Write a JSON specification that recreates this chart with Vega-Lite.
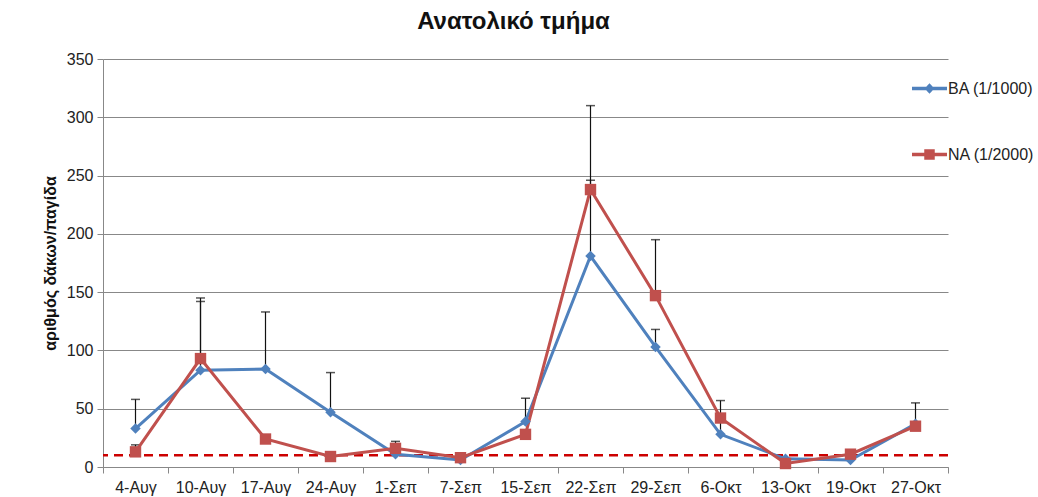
{
  "$schema": "https://vega.github.io/schema/vega-lite/v6.json",
  "width": 845,
  "height": 408,
  "autosize": {"type": "none"},
  "padding": {"left": 103, "top": 59, "right": 90, "bottom": 30},
  "background": "white",
  "title": {"text": "Ανατολικό τμήμα", "font": "Liberation Sans", "fontSize": 24, "fontWeight": "bold", "color": "#111", "anchor": "middle", "dx": -12, "offset": 17},
  "config": {
    "view": {"stroke": null},
    "axis": {"labelFont": "Liberation Sans", "labelFontSize": 16, "labelColor": "#222", "titleFont": "Liberation Sans", "domainColor": "#888", "tickColor": "#888", "gridColor": "#888", "gridWidth": 1}
  },
  "datasets": {
    "series": [
      {"date": "4-Αυγ", "series": "BA (1/1000)", "value": 33},
      {"date": "10-Αυγ", "series": "BA (1/1000)", "value": 83},
      {"date": "17-Αυγ", "series": "BA (1/1000)", "value": 84},
      {"date": "24-Αυγ", "series": "BA (1/1000)", "value": 47},
      {"date": "1-Σεπ", "series": "BA (1/1000)", "value": 11},
      {"date": "7-Σεπ", "series": "BA (1/1000)", "value": 6},
      {"date": "15-Σεπ", "series": "BA (1/1000)", "value": 39},
      {"date": "22-Σεπ", "series": "BA (1/1000)", "value": 181},
      {"date": "29-Σεπ", "series": "BA (1/1000)", "value": 103},
      {"date": "6-Οκτ", "series": "BA (1/1000)", "value": 28},
      {"date": "13-Οκτ", "series": "BA (1/1000)", "value": 7},
      {"date": "19-Οκτ", "series": "BA (1/1000)", "value": 6},
      {"date": "27-Οκτ", "series": "BA (1/1000)", "value": 37},
      {"date": "4-Αυγ", "series": "NA (1/2000)", "value": 13},
      {"date": "10-Αυγ", "series": "NA (1/2000)", "value": 93},
      {"date": "17-Αυγ", "series": "NA (1/2000)", "value": 24},
      {"date": "24-Αυγ", "series": "NA (1/2000)", "value": 9},
      {"date": "1-Σεπ", "series": "NA (1/2000)", "value": 16},
      {"date": "7-Σεπ", "series": "NA (1/2000)", "value": 8},
      {"date": "15-Σεπ", "series": "NA (1/2000)", "value": 28},
      {"date": "22-Σεπ", "series": "NA (1/2000)", "value": 238},
      {"date": "29-Σεπ", "series": "NA (1/2000)", "value": 147},
      {"date": "6-Οκτ", "series": "NA (1/2000)", "value": 42},
      {"date": "13-Οκτ", "series": "NA (1/2000)", "value": 3},
      {"date": "19-Οκτ", "series": "NA (1/2000)", "value": 11},
      {"date": "27-Οκτ", "series": "NA (1/2000)", "value": 35}
    ],
    "errors": [
      {"date": "4-Αυγ", "series": "BA (1/1000)", "value": 33, "upper": 58},
      {"date": "4-Αυγ", "series": "NA (1/2000)", "value": 13, "upper": 19},
      {"date": "10-Αυγ", "series": "BA (1/1000)", "value": 83, "upper": 142},
      {"date": "10-Αυγ", "series": "NA (1/2000)", "value": 93, "upper": 145},
      {"date": "17-Αυγ", "series": "BA (1/1000)", "value": 84, "upper": 133},
      {"date": "24-Αυγ", "series": "BA (1/1000)", "value": 47, "upper": 81},
      {"date": "1-Σεπ", "series": "NA (1/2000)", "value": 16, "upper": 22},
      {"date": "15-Σεπ", "series": "BA (1/1000)", "value": 39, "upper": 59},
      {"date": "22-Σεπ", "series": "BA (1/1000)", "value": 181, "upper": 246},
      {"date": "22-Σεπ", "series": "NA (1/2000)", "value": 238, "upper": 310},
      {"date": "29-Σεπ", "series": "BA (1/1000)", "value": 103, "upper": 118},
      {"date": "29-Σεπ", "series": "NA (1/2000)", "value": 147, "upper": 195},
      {"date": "6-Οκτ", "series": "BA (1/1000)", "value": 28, "upper": 57},
      {"date": "27-Οκτ", "series": "BA (1/1000)", "value": 37, "upper": 55}
    ],
    "threshold": [{"level": 10}]
  },
  "encoding": {
    "x": {
      "field": "date", "type": "nominal", "bandPosition": 0.5,
      "sort": ["4-Αυγ","10-Αυγ","17-Αυγ","24-Αυγ","1-Σεπ","7-Σεπ","15-Σεπ","22-Σεπ","29-Σεπ","6-Οκτ","13-Οκτ","19-Οκτ","27-Οκτ"],
      "scale": {"type": "band", "paddingInner": 0, "paddingOuter": 0},
      "axis": {"title": null, "labelAngle": 0, "tickBand": "extent", "tickSize": 6, "labelPadding": 6, "grid": false}
    }
  },
  "layer": [
    {
      "data": {"name": "series"},
      "mark": {"type": "rule", "opacity": 0},
      "encoding": {
        "y": {"field": "value", "type": "quantitative", "scale": {"domain": [0, 350]},
          "axis": {"values": [0,50,100,150,200,250,300,350], "title": "αριθμός δάκων/παγίδα", "titleFontSize": 16, "titleFontWeight": "bold", "titleColor": "#111", "titlePadding": 8, "tickSize": 6, "labelPadding": 4, "grid": true}}
      }
    },
    {
      "data": {"name": "errors"},
      "mark": {"type": "rule", "color": "#111", "strokeWidth": 1.2},
      "encoding": {
        "y": {"field": "value", "type": "quantitative"},
        "y2": {"field": "upper"}
      }
    },
    {
      "data": {"name": "errors"},
      "mark": {"type": "tick", "color": "#111", "thickness": 1.5, "size": 9, "orient": "horizontal"},
      "encoding": {
        "y": {"field": "upper", "type": "quantitative"}
      }
    },
    {
      "data": {"name": "threshold"},
      "mark": {"type": "rule", "color": "#CC0000", "strokeWidth": 2.5, "strokeDash": [9, 6]},
      "encoding": {
        "x": null,
        "y": {"field": "level", "type": "quantitative"}
      }
    },
    {
      "data": {"name": "series"},
      "mark": {"type": "line", "strokeWidth": 3},
      "encoding": {
        "y": {"field": "value", "type": "quantitative"},
        "color": {"field": "series", "type": "nominal", "scale": {"domain": ["BA (1/1000)", "NA (1/2000)"], "range": ["#4F81BD", "#C0504D"]},
          "legend": {
            "title": null, "orient": "none", "legendX": 809, "legendY": 12,
            "symbolSize": 1225, "rowPadding": 40, "labelOffset": 1,
            "labelFont": "Liberation Sans", "labelFontSize": 16, "labelColor": "#222",
            "encode": {"symbols": {"update": {
              "shape": {"signal": "datum.value === 'BA (1/1000)' ? 'M-1,-0.1H1V0.1H-1Z M0,-0.3L0.28,0L0,0.3L-0.28,0Z' : 'M-1,-0.1H1V0.1H-1Z M-0.3,-0.3H0.3V0.3H-0.3Z'"},
              "fill": {"signal": "datum.value === 'BA (1/1000)' ? '#4F81BD' : '#C0504D'"},
              "fillOpacity": {"value": 1},
              "strokeWidth": {"value": 0},
              "size": {"value": 1225}
            }}}
          }}
      }
    },
    {
      "data": {"name": "series"},
      "transform": [{"filter": "datum.series === 'BA (1/1000)'"}],
      "mark": {"type": "point", "filled": true, "opacity": 1, "shape": "diamond", "size": 110},
      "encoding": {
        "y": {"field": "value", "type": "quantitative"},
        "color": {"field": "series", "type": "nominal"}
      }
    },
    {
      "data": {"name": "series"},
      "transform": [{"filter": "datum.series === 'NA (1/2000)'"}],
      "mark": {"type": "point", "filled": true, "opacity": 1, "shape": "square", "size": 130},
      "encoding": {
        "y": {"field": "value", "type": "quantitative"},
        "color": {"field": "series", "type": "nominal"}
      }
    }
  ]
}
